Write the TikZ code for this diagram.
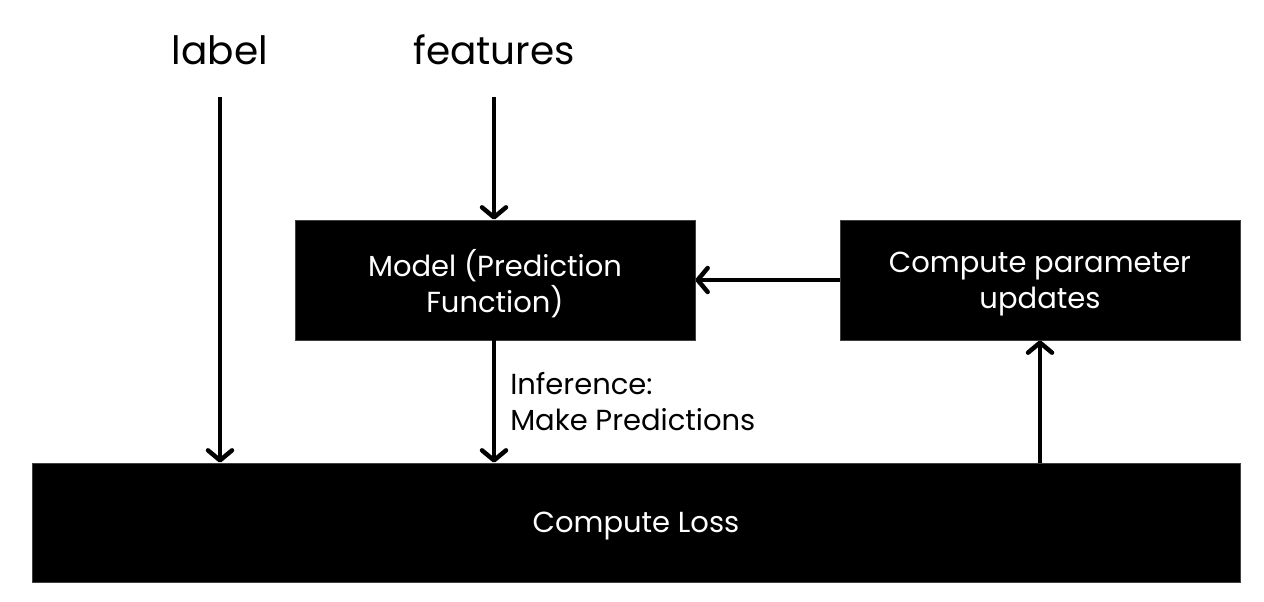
\documentclass[tikz,border=0pt]{standalone}
\usepackage{fontspec}
\setmainfont{Poppins}
\usetikzlibrary{arrows.meta}
\begin{document}
\begin{tikzpicture}[x=1pt,y=-1pt,
  blk/.style={fill=black,draw=black!75,line width=0.8pt,inner sep=0pt},
  blktext/.style={text=white,inner sep=0pt,align=center,font=\fontsize{29}{36}\selectfont,yshift=-4pt},
  conn/.style={line width=4.5pt,-{Straight Barb[round,length=10pt,width=24pt,line width=4.5pt]}},
  toplabel/.style={font=\fontsize{39}{44}\selectfont,inner sep=0pt}]
\useasboundingbox (0,0) rectangle (1264,602);
\node[toplabel] (lab) at (220,50) {label};
\node[toplabel] (feat) at (494,50) {features};
\node[blk,minimum width=400pt,minimum height=120pt,
  label={[blktext,name=modeltext]center:Model (Prediction\\Function)}] (model) at (495,280) {};
\node[blk,minimum width=400pt,minimum height=120pt,
  label={[blktext,name=paramtext]center:Compute parameter\\updates}] (param) at (1040,280) {};
\node[blk,minimum width=1208pt,minimum height=119pt,
  label={[blktext,name=losstext]center:Compute Loss}] (loss) at (636,522.5) {};
\coordinate (labtop) at (220,97);
\coordinate (feattop) at (494,97);
\draw[conn] (labtop) -- (labtop |- loss.north);
\draw[conn] (feattop) -- (feattop |- model.north);
\draw[conn] (param.west) -- (model.east);
\draw[conn] (model.south -| feattop) -- (feattop |- loss.north)
  node[midway,right=14pt,align=left,font=\fontsize{29}{36}\selectfont,inner sep=0pt] (inf) {Inference:\\Make Predictions};
\draw[conn] (param.south |- loss.north) -- (param.south);
\end{tikzpicture}
\end{document}
